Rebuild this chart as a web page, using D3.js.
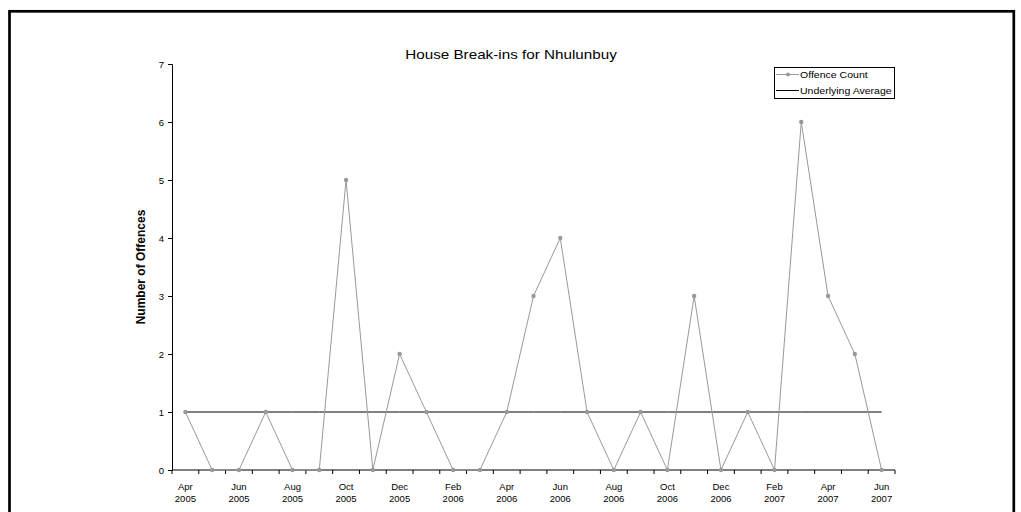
<!DOCTYPE html>
<html>
<head>
<meta charset="utf-8">
<script src="https://cdn.jsdelivr.net/npm/d3@7"></script>
<style>
  html, body { margin: 0; padding: 0; background: #fff; }
  svg { display: block; font-family: "Liberation Sans", Arial, sans-serif; }
</style>
</head>
<body>
<svg id="chart" width="1021" height="512"></svg>
<script>
const months = ["Apr","May","Jun","Jul","Aug","Sep","Oct","Nov","Dec","Jan","Feb","Mar",
                "Apr","May","Jun","Jul","Aug","Sep","Oct","Nov","Dec","Jan","Feb","Mar",
                "Apr","May","Jun"];
const years = ["2005","2005","2005","2005","2005","2005","2005","2005","2005","2006","2006","2006",
               "2006","2006","2006","2006","2006","2006","2006","2006","2006","2007","2007","2007",
               "2007","2007","2007"];
const offenceCount = [1,0,0,1,0,0,5,0,2,1,0,0,1,3,4,1,0,1,0,3,0,1,0,6,3,2,0];
const underlyingAverage = [1,1,1,1,1,1,1,1,1,1,1,1,1,1,1,1,1,1,1,1,1,1,1,1,1,1,1];
const yTicks = [0,1,2,3,4,5,6,7];
const titleText = "House Break-ins for Nhulunbuy";
const yLabel = "Number of Offences";
const seriesNames = ["Offence Count", "Underlying Average"];

(function () {
const svg = d3.select("#chart");
const pLeft = 172, pRight = 895, pTop = 64, pBottom = 470;

const keys = months.map((m, i) => i);
const x = d3.scaleBand().domain(keys).range([pLeft, pRight]).padding(0);
const cx = i => x(i) + x.bandwidth() / 2;
const y = d3.scaleLinear().domain([0, 7]).range([pBottom, pTop]);

// outer border
svg.append("rect")
  .attr("x", 9.5).attr("y", 11.3).attr("width", 1004.3).attr("height", 520)
  .attr("fill", "none").attr("stroke", "#000").attr("stroke-width", 2.7);

// title
svg.append("text")
  .attr("transform", "translate(511,59) scale(1.27,1)")
  .attr("text-anchor", "middle")
  .attr("font-size", 12)
  .attr("fill", "#000")
  .text(titleText);

// y axis
const yAxis = d3.axisLeft(y).tickValues(yTicks).tickSize(4).tickPadding(4).tickFormat(d3.format("d"));
const gy = svg.append("g").attr("transform", `translate(${pLeft},0)`).call(yAxis);
gy.select(".domain").attr("stroke", "#000");
gy.selectAll(".tick line").attr("stroke", "#000");
gy.selectAll(".tick text").attr("font-size", 9.5).attr("fill", "#000")
  .attr("font-family", "Liberation Sans, Arial, sans-serif");

// y label
svg.append("text")
  .attr("transform", `translate(145,${(pTop + pBottom) / 2}) rotate(-90)`)
  .attr("text-anchor", "middle")
  .attr("font-size", 12)
  .attr("font-weight", "bold")
  .attr("fill", "#000")
  .text(yLabel);

// x axis line
svg.append("line")
  .attr("x1", pLeft).attr("x2", pRight).attr("y1", y(0)).attr("y2", y(0))
  .attr("stroke", "#000").attr("stroke-width", 1);

// x ticks at category boundaries
const boundaries = keys.map(k => x(k)).concat([x(keys[keys.length - 1]) + x.step()]);
svg.append("g").selectAll("line").data(boundaries).join("line")
  .attr("x1", d => d).attr("x2", d => d)
  .attr("y1", y(0)).attr("y2", y(0) + 4)
  .attr("stroke", "#000");

// x labels every other month
const lab = svg.append("g").selectAll("g").data(keys.filter(k => k % 2 === 0)).join("g")
  .attr("transform", k => `translate(${cx(k)},0)`);
lab.append("text").attr("y", 490).attr("text-anchor", "middle").attr("font-size", 9.5)
  .attr("fill", "#000").text(k => months[k]);
lab.append("text").attr("y", 502).attr("text-anchor", "middle").attr("font-size", 9.5)
  .attr("fill", "#000").text(k => years[k]);

// underlying average
const line = d3.line().x((d, i) => cx(i)).y(d => y(d));
svg.append("path").datum(underlyingAverage)
  .attr("d", line).attr("fill", "none").attr("stroke", "#000").attr("stroke-width", 1);

// offence count
svg.append("path").datum(offenceCount)
  .attr("d", line).attr("fill", "none").attr("stroke", "#999").attr("stroke-width", 1);
svg.append("g").selectAll("circle").data(offenceCount).join("circle")
  .attr("cx", (d, i) => cx(i)).attr("cy", d => y(d)).attr("r", 2.2).attr("fill", "#999");

// legend
const lg = svg.append("g");
lg.append("rect").attr("x", 774.5).attr("y", 67.5).attr("width", 120).attr("height", 31)
  .attr("fill", "#fff").attr("stroke", "#000").attr("stroke-width", 1);
const rows = [{ name: seriesNames[0], color: "#999", marker: true, yy: 74.5 },
              { name: seriesNames[1], color: "#000", marker: false, yy: 90.5 }];
rows.forEach(r => {
  lg.append("line").attr("x1", 776).attr("x2", 799).attr("y1", r.yy).attr("y2", r.yy)
    .attr("stroke", r.color).attr("stroke-width", 1);
  if (r.marker) lg.append("circle").attr("cx", 788).attr("cy", r.yy).attr("r", 2).attr("fill", r.color);
  lg.append("text").attr("transform", `translate(800,${r.yy + 3}) scale(1.24,1)`)
    .attr("font-size", 8.5).attr("fill", "#000").text(r.name);
});
})();
</script>
</body>
</html>
